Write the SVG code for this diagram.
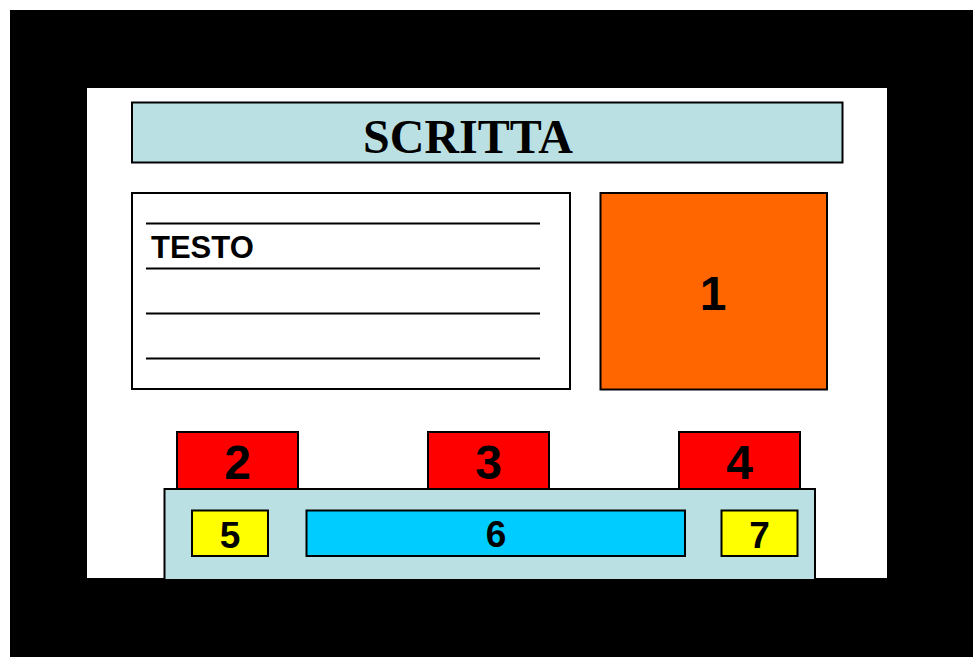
<svg xmlns="http://www.w3.org/2000/svg" width="973" height="657" viewBox="0 0 973 657">
<style>
.box{stroke:#000;stroke-width:2}
.num{font-family:"Liberation Sans",Arial,sans-serif;font-weight:bold;text-anchor:middle;fill:#000}
.big{font-size:48px}
.small{font-size:37px}
.line{stroke:#000;stroke-width:2}
</style>
<rect x="0" y="0" width="973" height="657" fill="#fff"/>
<rect x="10" y="10" width="963" height="647" fill="#000"/>
<rect x="87" y="88" width="800" height="490" fill="#fff"/>
<g id="title">
<rect class="box" x="132" y="102.5" width="710.5" height="60" fill="#bbe0e3"/>
<text x="468" y="153" font-family="'Liberation Serif','Times New Roman',serif" font-weight="bold" font-size="48" text-anchor="middle">SCRITTA</text>
</g>
<g id="testo">
<rect class="box" x="132" y="193" width="438" height="196" fill="#fff"/>
<line class="line" x1="146" y1="223.5" x2="540" y2="223.5"/>
<line class="line" x1="146" y1="268.5" x2="540" y2="268.5"/>
<line class="line" x1="146" y1="313.5" x2="540" y2="313.5"/>
<line class="line" x1="146" y1="358.5" x2="540" y2="358.5"/>
<text x="151" y="257.5" font-family="'Liberation Sans',Arial,sans-serif" font-weight="bold" font-size="31">TESTO</text>
</g>
<g id="n1">
<rect class="box" x="600.5" y="193" width="226.5" height="196.5" fill="#ff6600"/>
<text class="num big" x="713" y="309.5">1</text>
</g>
<g id="n2">
<rect class="box" x="177" y="432" width="121" height="57" fill="#ff0000"/>
<text class="num big" x="237.5" y="478.5">2</text>
</g>
<g id="n3">
<rect class="box" x="428" y="432" width="121" height="57" fill="#ff0000"/>
<text class="num big" x="488.5" y="478.5">3</text>
</g>
<g id="n4">
<rect class="box" x="679" y="432" width="121" height="57" fill="#ff0000"/>
<text class="num big" x="739.5" y="478.5">4</text>
</g>
<g id="base">
<rect class="box" x="164.5" y="489" width="650.5" height="92" fill="#bbe0e3"/>
</g>
<rect x="87" y="579" width="886" height="78" fill="#000"/>
<g id="n5">
<rect class="box" x="192" y="510.5" width="76" height="45.5" fill="#ffff00"/>
<text class="num small" x="230" y="548">5</text>
</g>
<g id="n6">
<rect class="box" x="306.5" y="510.5" width="378.5" height="45.5" fill="#00ccff"/>
<text class="num small" x="496" y="547">6</text>
</g>
<g id="n7">
<rect class="box" x="721.5" y="510.5" width="76" height="45.5" fill="#ffff00"/>
<text class="num small" x="759.5" y="548">7</text>
</g>
</svg>
